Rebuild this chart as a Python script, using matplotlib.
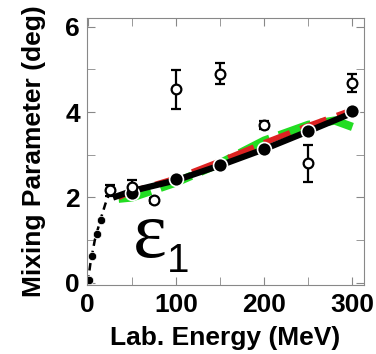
import matplotlib
matplotlib.use("Agg")
from matplotlib import pyplot as plt
from matplotlib.ticker import MultipleLocator

# open circles (data with error bars)
exp_x = [25, 50, 75, 100, 150, 200, 250, 300]
exp_y = [2.17, 2.25, 1.93, 4.53, 4.90, 3.70, 2.80, 4.68]
exp_err = [0.13, 0.15, 0.05, 0.45, 0.25, 0.10, 0.43, 0.22]

# small points at low energy
low_x = [1, 5, 10, 15]
low_y = [0.07, 0.62, 1.15, 1.48]

# filled analysis points
pwa_x = [50, 100, 150, 200, 250, 300]
pwa_y = [2.10, 2.42, 2.75, 3.13, 3.55, 4.02]

# theory curves
dash_x = [0, 3, 8, 14, 20, 25, 30]
dash_y = [0.0, 0.45, 1.0, 1.45, 1.85, 2.12, 2.02]
black_x = [32, 50, 100, 150, 200, 250, 300]
black_y = [2.02, 2.15, 2.40, 2.75, 3.13, 3.55, 3.98]
red_x = [35, 50, 100, 150, 200, 250, 300]
red_y = [2.00, 2.14, 2.45, 2.85, 3.28, 3.68, 4.05]
green_x = [35, 50, 100, 150, 200, 250, 280, 300]
green_y = [1.97, 2.00, 2.35, 2.80, 3.33, 3.70, 3.80, 3.65]

plt.rcParams['font.family'] = ['Liberation Sans', 'DejaVu Sans']

fig = plt.figure(figsize=(3.76, 3.54), dpi=100)
ax = fig.add_axes([0.231, 0.195, 0.737, 0.754])

ax.plot(green_x, green_y, '--', color='#22dd22', linewidth=6, dashes=(4, 1.2))
ax.plot(red_x, red_y, '--', color='#dd2222', linewidth=4, dashes=(5, 2))
ax.plot(black_x, black_y, '-', color='black', linewidth=4.5)
ax.plot(dash_x, dash_y, '--', color='black', linewidth=1.8, dashes=(3, 2))

ax.plot(low_x, low_y, 'o', color='black', markersize=6, markeredgecolor='white',
        markeredgewidth=0.5)
ax.plot(pwa_x, pwa_y, 'o', color='black', markersize=10, markeredgecolor='white',
        markeredgewidth=1.2)
ax.errorbar(exp_x, exp_y, yerr=exp_err, fmt='o', color='black', mfc='white',
            markersize=7, markeredgewidth=1.6, elinewidth=1.6, capsize=3.5,
            capthick=1.6)

ax.text(51, 0.61, 'ε', fontsize=58, family='Liberation Serif',
        ha='left', va='baseline')
ax.text(90, 0.26, '1', fontsize=29, ha='left', va='baseline')

ax.set_xlim(-1, 313)
ax.set_ylim(-0.05, 6.2)
ax.xaxis.set_major_locator(MultipleLocator(100))
ax.xaxis.set_minor_locator(MultipleLocator(50))
ax.yaxis.set_major_locator(MultipleLocator(2))
ax.yaxis.set_minor_locator(MultipleLocator(1))
ax.tick_params(which='both', direction='in', top=True, right=True,
               color='#888888', labelsize=19)
ax.tick_params(axis='x', pad=6)
ax.tick_params(axis='y', pad=5)
ax.tick_params(which='major', length=6)
ax.tick_params(which='minor', length=6)
for s in ax.spines.values():
    s.set_color('#888888')
for lab in ax.get_xticklabels() + ax.get_yticklabels():
    lab.set_fontweight('bold')

ax.set_xlabel('Lab. Energy (MeV)', fontsize=19, fontweight='bold', labelpad=6)
ax.set_ylabel('Mixing Parameter (deg)', fontsize=19, fontweight='bold', labelpad=14)

plt.savefig('out.png', dpi=100)
plt.close()
